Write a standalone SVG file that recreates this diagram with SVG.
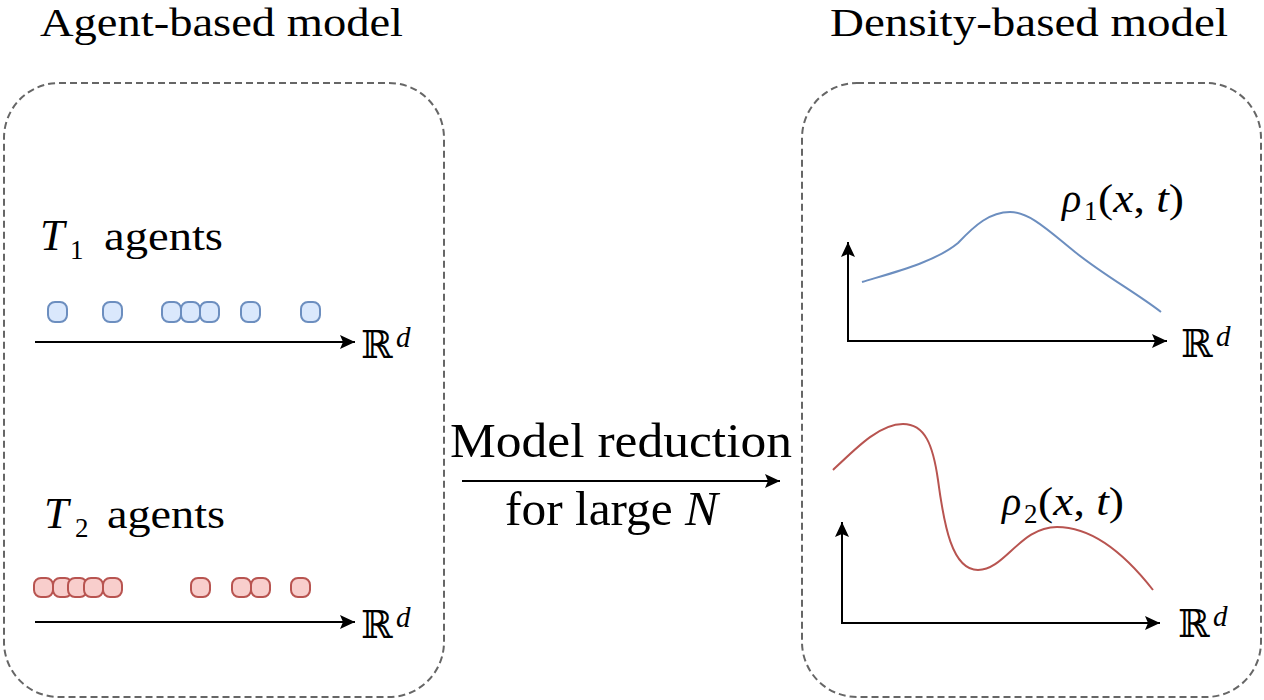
<svg xmlns="http://www.w3.org/2000/svg" width="1264" height="700" viewBox="0 0 1264 700">
<style>
.t{font-family:"Liberation Serif","DejaVu Serif",serif;fill:#000}
.i{font-style:italic}
.bb{font-family:"DejaVu Serif","DejaVu Sans",serif;fill:#000}
.box{fill:none;stroke:#666;stroke-width:2;stroke-dasharray:7 4}
.ax{fill:none;stroke:#000;stroke-width:2}
.b{fill:#dae8fc;stroke:#6c8ebf;stroke-width:2}
.r{fill:#f8cecc;stroke:#b85450;stroke-width:2}
</style>
<defs>
<marker id="ah" markerWidth="16" markerHeight="14" refX="15" refY="7" orient="auto" markerUnits="userSpaceOnUse">
<path d="M0,0 L15,7 L0,14 L3,7 z" fill="#000"/>
</marker>
</defs>
<rect width="1264" height="700" fill="#fff"/>

<g id="agent-model">
<rect class="box" x="4" y="83" width="440" height="614" rx="55" ry="55"/>
<text class="t" x="40" y="36" font-size="40" textLength="363" lengthAdjust="spacingAndGlyphs">Agent-based model</text>
</g>

<g id="density-model">
<rect class="box" x="802" y="83" width="459" height="614" rx="55" ry="55"/>
<text class="t" x="830" y="36" font-size="40" textLength="398" lengthAdjust="spacingAndGlyphs">Density-based model</text>
</g>

<g id="t1-agents">
<text class="t i" x="40" y="250" font-size="44">T</text>
<text class="t" x="70" y="259" font-size="27">1</text>
<text class="t" x="104" y="250" font-size="40" textLength="119" lengthAdjust="spacingAndGlyphs">agents</text>
<rect class="b" x="48" y="302" width="19" height="20" rx="7"/>
<rect class="b" x="103" y="302" width="19" height="20" rx="7"/>
<rect class="b" x="162" y="302" width="19" height="20" rx="7"/>
<rect class="b" x="181" y="302" width="19" height="20" rx="7"/>
<rect class="b" x="200" y="302" width="19" height="20" rx="7"/>
<rect class="b" x="241" y="302" width="19" height="20" rx="7"/>
<rect class="b" x="301" y="302" width="19" height="20" rx="7"/>
<text class="bb" x="361" y="358" font-size="38">ℝ</text>
<text class="t i" x="396" y="347" font-size="29">d</text>
</g>

<g id="t2-agents">
<text class="t i" x="44" y="528" font-size="44">T</text>
<text class="t" x="75" y="537" font-size="27">2</text>
<text class="t" x="107" y="528" font-size="40" textLength="118" lengthAdjust="spacingAndGlyphs">agents</text>
<rect class="r" x="34" y="578" width="19" height="19" rx="7"/>
<rect class="r" x="53" y="578" width="19" height="19" rx="7"/>
<rect class="r" x="68" y="578" width="19" height="19" rx="7"/>
<rect class="r" x="84" y="578" width="19" height="19" rx="7"/>
<rect class="r" x="103" y="578" width="19" height="19" rx="7"/>
<rect class="r" x="191" y="578" width="19" height="19" rx="7"/>
<rect class="r" x="232" y="578" width="19" height="19" rx="7"/>
<rect class="r" x="251" y="578" width="19" height="19" rx="7"/>
<rect class="r" x="291" y="578" width="19" height="19" rx="7"/>
<text class="bb" x="361" y="638" font-size="38">ℝ</text>
<text class="t i" x="396" y="627" font-size="29">d</text>
</g>

<g id="rho1-plot">
<path d="M862,282 C895,272 935,262 958,243 C975,225 990,212 1010,212 C1030,212 1050,232 1075,252 C1105,276 1135,292 1161,312" fill="none" stroke="#6c8ebf" stroke-width="2"/>
<text class="t i" x="1062" y="212" font-size="40">ρ</text>
<text class="t" x="1084" y="220" font-size="27">1</text>
<text class="t" x="1098" y="212" font-size="40" textLength="86" lengthAdjust="spacingAndGlyphs">(<tspan class="i">x</tspan>, <tspan class="i">t</tspan>)</text>
<text class="bb" x="1181" y="357" font-size="38">ℝ</text>
<text class="t i" x="1216" y="346" font-size="29">d</text>
</g>

<g id="rho2-plot">
<path d="M833,470 C858,446 880,424 903,424 C925,424 933,445 938,480 C944,525 952,570 978,570 C1005,570 1020,527 1057,527 C1095,527 1128,558 1153,590" fill="none" stroke="#b85450" stroke-width="2"/>
<text class="t i" x="1002" y="515" font-size="40">ρ</text>
<text class="t" x="1024" y="523" font-size="27">2</text>
<text class="t" x="1038" y="515" font-size="40" textLength="86" lengthAdjust="spacingAndGlyphs">(<tspan class="i">x</tspan>, <tspan class="i">t</tspan>)</text>
<text class="bb" x="1178" y="637" font-size="38">ℝ</text>
<text class="t i" x="1213" y="626" font-size="29">d</text>
</g>

<g id="reduction-label">
<text class="t" x="450" y="457" font-size="48" textLength="342" lengthAdjust="spacingAndGlyphs">Model reduction</text>
<text class="t" x="505" y="525" font-size="48" textLength="213" lengthAdjust="spacingAndGlyphs">for large <tspan class="i">N</tspan></text>
</g>

<g id="connectors">
<line class="ax" x1="35" y1="342" x2="355" y2="342" marker-end="url(#ah)"/>
<line class="ax" x1="35" y1="622" x2="355" y2="622" marker-end="url(#ah)"/>
<line class="ax" x1="462" y1="481" x2="780" y2="481" marker-end="url(#ah)"/>
<line class="ax" x1="848" y1="342" x2="848" y2="242" marker-end="url(#ah)"/>
<line class="ax" x1="847" y1="341" x2="1167" y2="341" marker-end="url(#ah)"/>
<line class="ax" x1="842" y1="624" x2="842" y2="522" marker-end="url(#ah)"/>
<line class="ax" x1="841" y1="623" x2="1160" y2="623" marker-end="url(#ah)"/>
</g>
</svg>
